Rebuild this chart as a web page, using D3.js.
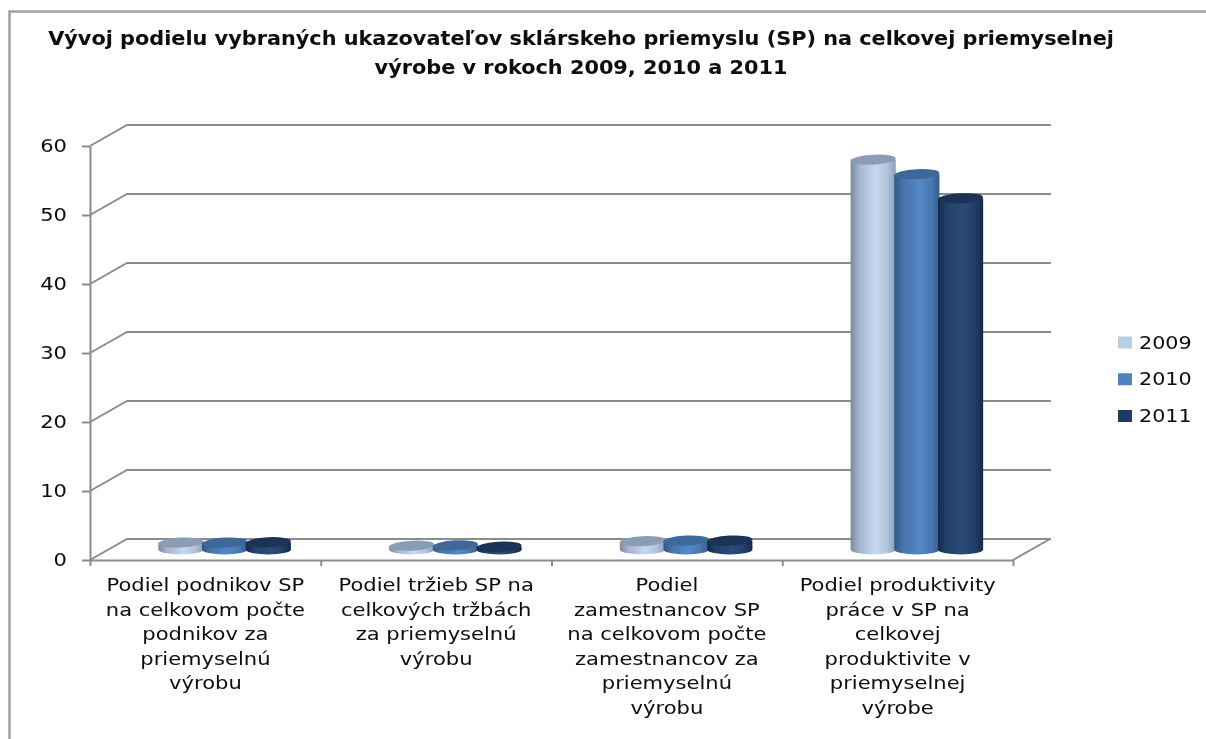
<!DOCTYPE html>
<html>
<head>
  <meta charset="utf-8">
  <style>
    html, body { margin: 0; padding: 0; background: #fff; }
    svg { display: block; }
    svg text { font-family: "DejaVu Sans"; fill: #0a0a0a; }
    svg .title { font-weight: bold; font-size: 19px; }
    svg .label { font-size: 18px; }
    svg .tick text { font-size: 18px; }
    svg .legend text { font-size: 18.5px; }
    svg .grid { stroke: #8c8c8c; stroke-width: 2px; fill: none; }
    svg .domain, svg .tick line { stroke: #8c8c8c; stroke-width: 2px; }
  </style>
</head>
<body>
<script src="https://d3js.org/d3.v7.min.js"></script>
<script>
  var categories = [
    "Podiel podnikov SP na celkovom počte podnikov za priemyselnú výrobu",
    "Podiel tržieb SP na celkových tržbách za priemyselnú výrobu",
    "Podiel zamestnancov SP na celkovom počte zamestnancov za priemyselnú výrobu",
    "Podiel produktivity práce v SP na celkovej produktivite v priemyselnej výrobe"
  ];
  var categoryLines = [
    ["Podiel podnikov SP", "na celkovom počte", "podnikov za", "priemyselnú", "výrobu"],
    ["Podiel tržieb SP na", "celkových tržbách", "za priemyselnú", "výrobu"],
    ["Podiel", "zamestnancov SP", "na celkovom počte", "zamestnancov za", "priemyselnú", "výrobu"],
    ["Podiel produktivity", "práce v SP na", "celkovej", "produktivite v", "priemyselnej", "výrobe"]
  ];
  var years = ["2009", "2010", "2011"];
  var values2009 = [1.0, 0.55, 1.2, 56.5];
  var values2010 = [1.0, 0.6, 1.3, 54.4];
  var values2011 = [1.05, 0.4, 1.3, 50.9];
  var yTicks = [0, 10, 20, 30, 40, 50, 60];
  var titleLines = [
    "Vývoj podielu vybraných ukazovateľov sklárskeho priemyslu (SP) na celkovej priemyselnej",
    "výrobe v rokoch 2009, 2010 a 2011"
  ];
  var seriesValues = [values2009, values2010, values2011];

  var width = 1206, height = 739;
  var stretch = 1.17;          // the source picture is wider than tall
  var titleStretch = 1.096, legendStretch = 1.12;
  var depthX = 37, depthY = -21;
  var left = 90, right = 1013, top0 = 146, bottom = 560;

  var svg = d3.select("body").append("svg")
      .attr("width", width)
      .attr("height", height);

  // gradients for the cylinders
  var stops = [
    [["0", "#7a8a9f"], ["0.2", "#a5b7cf"], ["0.55", "#c6d9f1"], ["0.8", "#b3c5dd"], ["1", "#8d9eb4"]],
    [["0", "#30598a"], ["0.2", "#4674ab"], ["0.55", "#5488c6"], ["0.8", "#4a79b2"], ["1", "#34608f"]],
    [["0", "#14294a"], ["0.2", "#23416a"], ["0.55", "#2a4c76"], ["0.8", "#234069"], ["1", "#15294a"]]
  ];
  var topColors = ["#8b9db5", "#3c6898", "#1a3356"];
  var legendColors = ["#b9cde5", "#4f81bd", "#1f3b63"];

  var defs = svg.append("defs");
  stops.forEach(function (s, i) {
    defs.append("linearGradient")
        .attr("id", "cyl" + i)
      .selectAll("stop")
      .data(s)
      .join("stop")
        .attr("offset", function (d) { return d[0]; })
        .attr("stop-color", function (d) { return d[1]; });
  });
  defs.append("filter").attr("id", "soft")
    .append("feGaussianBlur").attr("stdDeviation", 0.45);

  var chart = svg.append("g").attr("filter", "url(#soft)");

  // outer border, only top and left are visible
  chart.append("path")
      .attr("d", "M9.5,739V11.5H1206")
      .style("fill", "none")
      .style("stroke", "#a0a0a0")
      .style("stroke-width", "2.5px");

  // title
  chart.selectAll("text.title")
    .data(titleLines)
    .join("text")
      .classed("title", true)
      .attr("text-anchor", "middle")
      .attr("transform", function (d, i) {
        return "translate(581," + (45 + i * 29) + ") scale(" + titleStretch + ",1)";
      })
      .text(function (d) { return d; });

  // scales
  var yScale = d3.scaleLinear().domain([0, 60]).range([bottom, top0]);
  var xEdge = d3.scaleLinear().domain([0, categories.length]).range([left, right]);
  var xBand = d3.scaleBand().domain(categories).range([left, right])
      .paddingInner(0.432).paddingOuter(0.216);
  var xInner = d3.scaleBand().domain(years).range([0, xBand.bandwidth()]);

  // back wall grid lines and the slanted side wall
  chart.selectAll("path.grid")
    .data(yTicks)
    .join("path")
      .classed("grid", true)
      .attr("d", function (d) {
        return d3.line()([
          [left, yScale(d)],
          [left + depthX, yScale(d) + depthY],
          [right + depthX + 1, yScale(d) + depthY]
        ]);
      });

  // floor right edge
  chart.append("path")
      .classed("grid", true)
      .attr("d", d3.line()([
        [right, bottom],
        [right + depthX, bottom + depthY]
      ]));

  // axes
  var yAxis = d3.axisLeft(yScale).tickValues(yTicks).tickSize(8).tickSizeOuter(0).tickPadding(15);
  var yg = chart.append("g")
      .attr("transform", "translate(" + left + ",0)")
      .call(yAxis);
  yg.selectAll(".tick text")
      .attr("transform", "scale(" + stretch + ",1)")
      .attr("x", -23 / stretch)
      .style("fill", "#0a0a0a");

  var xAxis = d3.axisBottom(xEdge).ticks(categories.length).tickSize(6).tickSizeOuter(0).tickFormat("");
  chart.append("g")
      .attr("transform", "translate(0," + bottom + ")")
      .call(xAxis);

  // category labels
  categoryLines.forEach(function (lines, c) {
    var cx = xBand(categories[c]) + xBand.bandwidth() / 2;
    chart.selectAll("text.cat" + c)
      .data(lines)
      .join("text")
        .attr("class", "label cat" + c)
        .attr("text-anchor", "middle")
        .attr("transform", function (d, i) {
          return "translate(" + cx + "," + (591 + i * 24.6) + ") scale(" + stretch + ",1)";
        })
        .text(function (d) { return d; });
  });

  // cylinders, they stand halfway into the floor
  var barW = xInner.bandwidth() + 1.5;
  var ry = 5;
  var midX = depthX / 2, midY = depthY / 2;
  var bars = chart.append("g").attr("transform", "translate(" + midX + "," + midY + ")");
  years.forEach(function (year, s) {
    seriesValues[s].forEach(function (v, c) {
      var x0 = xBand(categories[c]) + xInner(year);
      var cx = x0 + barW / 2;
      var yTop = yScale(v), yBase = yScale(0);
      var rx = barW / 2;
      bars.append("path")
          .attr("d", "M" + x0 + "," + yTop + "V" + yBase +
            "A" + rx + "," + ry + " 0 0 0 " + (x0 + barW) + "," + yBase +
            "V" + yTop + "Z")
          .style("fill", "url(#cyl" + s + ")");
      bars.append("ellipse")
          .attr("cx", cx)
          .attr("cy", yTop)
          .attr("rx", rx)
          .attr("ry", ry)
          .attr("transform", "rotate(-3," + cx + "," + yTop + ")")
          .style("fill", topColors[s]);
    });
  });

  // legend
  var legendY = d3.scalePoint().domain(years).range([342.5, 416]);
  var legend = chart.append("g").classed("legend", true);
  legend.selectAll("rect")
    .data(years)
    .join("rect")
      .attr("x", 1118)
      .attr("y", function (d) { return legendY(d) - 6; })
      .attr("width", 14)
      .attr("height", 12)
      .style("fill", function (d, i) { return legendColors[i]; });
  legend.selectAll("text")
    .data(years)
    .join("text")
      .attr("transform", function (d) {
        return "translate(1139," + (legendY(d) + 6) + ") scale(" + legendStretch + ",1)";
      })
      .text(function (d) { return d; });
</script>
</body>
</html>
